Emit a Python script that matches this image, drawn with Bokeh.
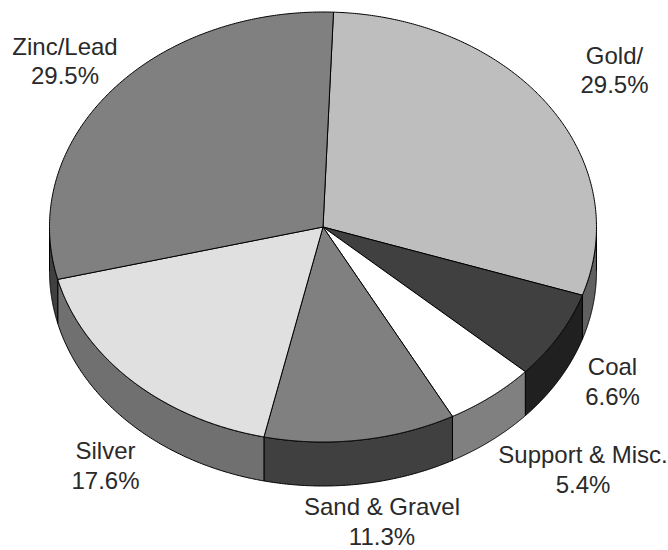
import numpy as np
from bokeh.embed import file_html
from bokeh.models import ColumnDataSource, Range1d
from bokeh.plotting import figure
from bokeh.resources import INLINE
from bokeh.core.properties import value

# --- chart data ---------------------------------------------------------
categories = ["Gold/", "Coal", "Support & Misc.", "Sand & Gravel", "Silver", "Zinc/Lead"]
percents = [29.5, 6.6, 5.4, 11.3, 17.6, 29.5]
percent_labels = ["29.5%", "6.6%", "5.4%", "11.3%", "17.6%", "29.5%"]
top_colors = ["#bebebe", "#404040", "#ffffff", "#808080", "#e0e0e0", "#808080"]
side_colors = ["#606060", "#202020", "#808080", "#404040", "#707070", "#404040"]

# --- layout -------------------------------------------------------------
W, H = 668, 550
CX, CY, RX, RY, DEPTH = 322.5, 226.5, 273.5, 215.0, 44.0
START_DEG = 87.8
label_x = [614, 612, 582.5, 381.5, 105, 64.5]
label_y = [54.5, 366, 454, 506, 450, 45.5]
LINE_GAP = 29.5
FONT = "Liberation Sans"
FONT_SIZE = "24px"

p = figure(width=W, height=H, output_backend="svg", toolbar_location=None,
           x_range=Range1d(0, W), y_range=Range1d(H, 0),
           min_border=0, outline_line_color=None)
p.axis.visible = False
p.grid.visible = False
p.background_fill_color = "white"
p.border_fill_color = "white"

sweeps = np.array(percents) / sum(percents) * 360.0
edges = START_DEG - np.concatenate([[0.0], np.cumsum(sweeps)])


def rim(t0, t1, dy=0.0, n=120):
    t = np.radians(np.linspace(t0, t1, n))
    return CX + RX * np.cos(t), CY - RY * np.sin(t) + dy


# side walls: only the part of each slice on the front half (sin t < 0)
side_xs, side_ys, side_cols = [], [], []
for i in range(len(percents)):
    lo, hi = edges[i + 1], edges[i]
    a, b = max(lo, -180.0), min(hi, 0.0)
    if a >= b:
        continue
    x1, y1 = rim(b, a)
    x2, y2 = rim(a, b, DEPTH)
    side_xs.append(np.concatenate([x1, x2]))
    side_ys.append(np.concatenate([y1, y2]))
    side_cols.append(side_colors[i])
p.patches(side_xs, side_ys, fill_color=side_cols, line_color="black", line_width=1)

# top faces
top_xs, top_ys = [], []
for i in range(len(percents)):
    x, y = rim(edges[i], edges[i + 1], n=240)
    top_xs.append(np.concatenate([[CX], x, [CX]]))
    top_ys.append(np.concatenate([[CY], y, [CY]]))
p.patches(top_xs, top_ys, fill_color=top_colors, line_color="black", line_width=1)

# labels
tx, ty, tt = [], [], []
for i, c in enumerate(categories):
    tx += [label_x[i], label_x[i]]
    ty += [label_y[i], label_y[i] + LINE_GAP]
    tt += [c, percent_labels[i]]
src = ColumnDataSource(dict(x=tx, y=ty, t=tt))
p.text("x", "y", text="t", source=src, text_font=value(FONT), text_font_size=FONT_SIZE,
       text_align="center", text_baseline="middle", text_color="#2a2a2a")

open("out.html", "w").write(file_html(p, INLINE))
